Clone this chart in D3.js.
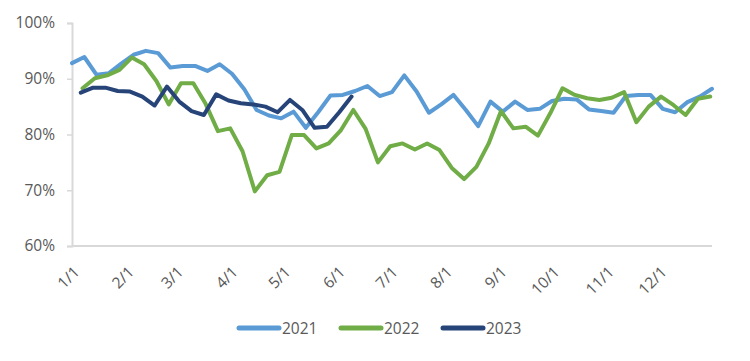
<!DOCTYPE html>
<html>
<head>
<meta charset="utf-8">
<script src="https://cdn.jsdelivr.net/npm/d3@7"></script>
<style>
  html, body { margin: 0; padding: 0; background: #fff; }
  svg { display: block; }
  text { font-family: "Open Sans", "DejaVu Sans", sans-serif; fill: #595959; }
</style>
</head>
<body>
<svg id="chart" width="750" height="361"></svg>
<script>
// ---- data ----
const seriesNames = ["2021", "2022", "2023"];
const startDays = [0, 6, 5];          // day-of-year of first weekly observation
const tickDays = [0, 31, 59, 90, 120, 151, 181, 212, 243, 273, 304, 334];
const tickLabels = ["1/1", "2/1", "3/1", "4/1", "5/1", "6/1", "7/1", "8/1", "9/1", "10/1", "11/1", "12/1"];
const yTicks = [0.6, 0.7, 0.8, 0.9, 1.0];

const values2021 = [92.8, 93.9, 90.7, 91.0, 92.7, 94.3, 95.0, 94.6, 92.0, 92.3, 92.3, 91.4, 92.6, 90.9, 88.1,
  84.4, 83.4, 82.9, 84.1, 81.2, 84.0, 87.0, 87.1, 87.8, 88.7, 86.9, 87.6, 90.6, 87.7, 83.9, 85.4, 87.1, 84.4,
  81.5, 85.9, 84.1, 85.9, 84.4, 84.6, 86.0, 86.4, 86.3, 84.5, 84.2, 83.9, 86.9, 87.1, 87.1, 84.6, 84.0, 85.8,
  86.8, 88.2];
const values2022 = [88.3, 90.1, 90.6, 91.6, 93.8, 92.6, 89.6, 85.4, 89.2, 89.2, 85.5, 80.6, 81.1, 77.0, 69.8,
  72.7, 73.3, 79.9, 79.9, 77.5, 78.4, 80.8, 84.4, 81.0, 75.0, 77.9, 78.4, 77.3, 78.4, 77.2, 74.0, 72.0, 74.2,
  78.4, 84.2, 81.1, 81.4, 79.8, 83.8, 88.3, 87.1, 86.5, 86.2, 86.6, 87.6, 82.2, 85.0, 86.8, 85.3, 83.5, 86.4,
  86.8];
const values2023 = [87.5, 88.4, 88.4, 87.8, 87.7, 86.8, 85.2, 88.6, 85.9, 84.2, 83.5, 87.2, 86.1, 85.6, 85.4,
  85.0, 84.0, 86.2, 84.4, 81.2, 81.4, 84.0, 86.8];
const colors = ["#5B9BD5", "#70AD47", "#264478"];

// ---- build ----
const allValues = [values2021, values2022, values2023];
const series = seriesNames.map((name, s) => ({
  name, color: colors[s],
  points: allValues[s].map((v, i) => ({ day: startDays[s] + 7 * i, value: v / 100 }))
}));

const svg = d3.select("#chart");
const x = d3.scaleLinear().domain([0, 364]).range([72, 712]);
const y = d3.scaleLinear().domain([0.6, 1.0]).range([246, 23]);

// y axis
const yAxis = d3.axisLeft(y).tickValues(yTicks).tickFormat(d3.format(".0%")).tickSize(5).tickPadding(12);
const gy = svg.append("g").attr("transform", "translate(72,0)").call(yAxis);
gy.select(".domain").attr("stroke", "#d9d9d9").attr("stroke-width", 2);
gy.selectAll(".tick line").attr("stroke", "#d9d9d9").attr("stroke-width", 1.5);
gy.selectAll(".tick text").style("font-size", "15.5px").attr("fill", "#595959");

// x axis
const xAxis = d3.axisBottom(x).tickValues(tickDays).tickFormat((d, i) => tickLabels[i]).tickSize(0);
const gx = svg.append("g").attr("transform", "translate(0,246)").call(xAxis);
gx.select(".domain").attr("stroke", "#d9d9d9").attr("stroke-width", 2)
  .attr("d", `M${x(0)},0H${x(364)}`);
gx.selectAll(".tick text")
  .style("font-size", "15.5px").attr("fill", "#595959")
  .attr("text-anchor", "end")
  .attr("y", 0).attr("dy", 0)
  .attr("transform", "translate(8,27) rotate(-45)");

// lines
const line = d3.line().x(d => x(d.day)).y(d => y(d.value)).curve(d3.curveLinear);
svg.append("g").selectAll("path").data(series).join("path")
  .attr("d", d => line(d.points))
  .attr("fill", "none")
  .attr("stroke", d => d.color)
  .attr("stroke-width", 4)
  .attr("stroke-linejoin", "round")
  .attr("stroke-linecap", "round");

// legend
const legendX = [237, 339, 441];
const lg = svg.append("g").selectAll("g").data(series).join("g")
  .attr("transform", (d, i) => `translate(${legendX[i]},328)`);
lg.append("line").attr("x1", 2).attr("x2", 42).attr("y1", 0).attr("y2", 0)
  .attr("stroke", d => d.color).attr("stroke-width", 5).attr("stroke-linecap", "round");
lg.append("text").attr("x", 45).attr("y", 0).attr("dy", "0.36em")
  .style("font-size", "15.5px").attr("fill", "#595959").text(d => d.name);
</script>
</body>
</html>
